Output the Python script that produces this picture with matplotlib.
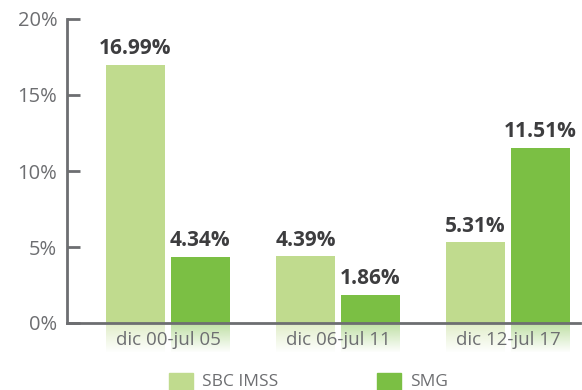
import numpy as np
import matplotlib.pyplot as plt
from matplotlib.patches import Rectangle

periods = ["dic 00-jul 05", "dic 06-jul 11", "dic 12-jul 17"]
sbc_imss = [16.99, 4.39, 5.31]
smg = [4.34, 1.86, 11.51]
yticks = [0, 5, 10, 15, 20]

light_green = "#c0db8e"
dark_green = "#7bbf44"
axis_gray = "#6d6e71"
label_dark = "#3d3d3f"

plt.rcParams['font.family'] = ['Open Sans', 'DejaVu Sans']

fig = plt.figure(figsize=(5.82, 3.9), dpi=100)
ax = fig.add_axes([67 / 582, 1 - 323 / 390, 513 / 582, 304 / 390])

x = np.arange(len(periods))
width = 0.347
offset = 0.191


def reflection(ax, xc, color, depth=2.0):
    # faded mirror of the bar below the baseline
    rgb = np.array(plt.matplotlib.colors.to_rgb(color))
    n = 50
    img = np.zeros((n, 1, 4))
    img[:, 0, :3] = rgb
    img[:, 0, 3] = np.linspace(0.5, 0.0, n)
    ax.imshow(img, extent=(xc - width / 2, xc + width / 2, -depth, 0),
              origin='upper', aspect='auto', clip_on=False, zorder=1,
              interpolation='bilinear')


for series, color, sign in [(sbc_imss, light_green, -1), (smg, dark_green, 1)]:
    xs = x + sign * offset
    bars = ax.bar(xs, series, width, color=color, zorder=2)
    for xc, v in zip(xs, series):
        reflection(ax, xc, color)
        ax.annotate(f"{v:.2f}%", (xc, v), xytext=(0, 4), textcoords='offset points',
                    ha='center', va='bottom', fontsize=15, fontweight='bold',
                    color=label_dark)

ax.set_xlim(-0.594, 2.424)
ax.set_ylim(0, 20)
ax.set_yticks(yticks)
ax.set_yticklabels([f"{t}%" for t in yticks])
ax.tick_params(axis='y', direction='in', length=9.5, width=2, color=axis_gray,
               labelcolor=axis_gray, labelsize=14.5, pad=7)
ax.set_xticks(x)
ax.set_xticklabels(periods)
ax.tick_params(axis='x', length=0, labelcolor=axis_gray, labelsize=13.5, pad=6)

for side in ['top', 'right']:
    ax.spines[side].set_visible(False)
for side in ['left', 'bottom']:
    ax.spines[side].set_color(axis_gray)
    ax.spines[side].set_linewidth(2)
    ax.spines[side].set_zorder(3)

# legend drawn as plain squares and labels under the axis
for x0, color, name in [(169, light_green, "SBC IMSS"), (377, dark_green, "SMG")]:
    fig.patches.append(Rectangle((x0 / 582, 0), 24 / 582, 17 / 390,
                                 transform=fig.transFigure, color=color))
    fig.text((x0 + 33) / 582, 8 / 390, name, fontsize=12.5, color=axis_gray,
             va='center', ha='left')

fig.savefig("out.png", dpi=100)
